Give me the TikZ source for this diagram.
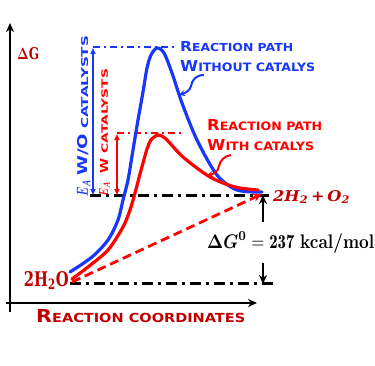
\documentclass[tikz,border=0pt]{standalone}
\usepackage{amsmath}
\usepackage{fontspec}
\usepackage{graphicx}
\usetikzlibrary{arrows.meta}
\newfontfamily\cpf{DejaVu Sans}
\newfontfamily\dvs{DejaVu Serif}
\definecolor{cblue}{RGB}{25,55,250}
\definecolor{cred}{RGB}{255,0,0}
\definecolor{dred}{RGB}{192,0,0}
\newcommand\smc[4]{{\fontsize{#1}{#1}\selectfont #3}{\fontsize{#2}{#2}\selectfont #4}}
\newcommand\dgtext{$\boldsymbol{\Delta G^0} = \mathbf{237}$ \textbf{kcal/mol}}
\newcommand\eab{$\boldsymbol{E}_{\boldsymbol{A}}$}
\begin{document}
\begin{tikzpicture}[x=1bp,y=-1bp,
  curve/.style={line width=3.2bp, line join=round, line cap=round},
  axis/.style={line width=2.6bp, -{Stealth[length=9bp,width=8bp]}},
  ddash/.style={line width=3bp, dash pattern=on 11bp off 5bp on 3bp off 5bp},
  tdash/.style={line width=1.6bp, dash pattern=on 7bp off 4bp on 2bp off 4bp},
  varrow/.style={line width=2.3bp, {Triangle[length=6bp,width=5bp]}-{Triangle[length=6bp,width=5bp]}},
  curly/.style={line width=2bp, -{Stealth[length=6bp,width=6bp]}},
  lbl/.style={inner sep=0pt, font=\cpf\bfseries},
]
\useasboundingbox (0,0) rectangle (375,366);
% key coordinates
\coordinate (r) at (72,282);
\coordinate (p) at (262,194);
\coordinate (ytop) at (10,23);
\coordinate (xend) at (257,303);
\coordinate (ybot) at (10,312);
\coordinate (xbeg) at (6,303);
% axes
\draw[axis] (ybot) -- (ytop);
\draw[axis] (xbeg) -- (xend);
% dash-dot levels
\coordinate (l1a) at (90,195);
\coordinate (l1b) at (270,195);
\coordinate (l0a) at (70,283);
\coordinate (l0b) at (278,283);
\draw[ddash] (l1a) -- (l1b);
\draw[ddash] (l0a) -- (l0b);
\coordinate (bta) at (93,47);
\coordinate (btb) at (178,47);
\coordinate (rta) at (117,133);
\coordinate (rtb) at (182,133);
\draw[tdash, cblue] (bta) -- (btb);
\draw[tdash, cred] (rta) -- (rtb);
% curves
\draw[curve, cblue] plot[smooth, tension=0.5] coordinates {(70,272) (92,257) (108,240) (118,220) (123,200) (128,180) (133,150) (138,120) (143,92) (147,68) (151,55) (157,48) (164,53) (172,73) (182,103) (197,140) (217,175) (237,190) (262,192)};
\draw[curve, cred] plot[smooth, tension=0.5] coordinates {(72,279) (88,267) (108,250) (123,227) (130,210) (135,193) (140,174) (143,163) (147,149) (151,140) (158,135) (166,139) (183,157) (210,177) (235,187) (258,190)};
% dashed direct path
\draw[cred, line width=2.8bp, dash pattern=on 9bp off 5bp, -{Stealth[length=9bp,width=8bp]}] (r) -- (p);
% activation energy arrows
\coordinate (bv1) at (93,48);
\coordinate (bv2) at (93,195);
\coordinate (rv1) at (117,134);
\coordinate (rv2) at (117,195);
\draw[varrow, cblue] (bv1) -- (bv2);
\draw[varrow, cred] (rv1) -- (rv2);
% delta G0 arrows
\coordinate (g1) at (263,222);
\coordinate (g2) at (263,195);
\coordinate (g3) at (263,263);
\coordinate (g4) at (263,284);
\draw[axis] (g1) -- (g2);
\draw[axis] (g3) -- (g4);
% curly arrows
\coordinate (bc0) at (204,75);
\coordinate (bc1) at (191,86);
\coordinate (bc2) at (179,95);
\draw[curly, cblue] (bc0) .. controls (196,75) and (192,80) .. (bc1) .. controls (190,91) and (185,93) .. (bc2);
\coordinate (rc0) at (231,155);
\coordinate (rc1) at (219,166);
\coordinate (rc2) at (207,176);
\draw[curly, cred] (rc0) .. controls (224,156) and (220,161) .. (rc1) .. controls (218,172) and (213,174) .. (rc2);
% labels
\node[inner sep=0pt, anchor=base west, text=dred] (dg) at (17,59) {\resizebox{22bp}{12bp}{\dvs\bfseries $\boldsymbol{\Delta}$G}};
\node[inner sep=0pt, anchor=base east, text=dred] (h2o) at (69,286) {\resizebox{45bp}{15bp}{\dvs\bfseries 2H\textsubscript{2}O}};
\node[inner sep=0pt, anchor=base west, text=dred] (prod) at (273,201) {\resizebox{77bp}{11bp}{\dvs\bfseries\itshape 2H\textsubscript{2}\,\upshape+\,\itshape O\textsubscript{2}}};
\node[inner sep=0pt, anchor=base west] (dgz) at (207,248) {\resizebox{167bp}{16bp}{\dgtext}};
\node[lbl, anchor=base west, text=dred] (xl) at (36,322) {\resizebox{209bp}{13bp}{\smc{14}{9.8}{R}{EACTION COORDINATES}}};
\node[lbl, anchor=base west, text=cblue] (bla) at (180,51) {\resizebox{113bp}{10bp}{\smc{12}{9.6}{R}{EACTION PATH}}};
\node[lbl, anchor=base west, text=cblue] (blb) at (180,71) {\resizebox{135bp}{11bp}{\smc{12}{9.2}{W}{ITHOUT CATALYS}}};
\node[lbl, anchor=base west, text=cred] (rla) at (207,130) {\resizebox{115bp}{11bp}{\smc{12}{9.2}{R}{EACTION PATH}}};
\node[lbl, anchor=base west, text=cred] (rlb) at (207,150) {\resizebox{107bp}{11bp}{\smc{12}{9.2}{W}{ITH CATALYS}}};
\node[lbl, anchor=base west, rotate=90, text=cblue] (bv) at (88,197) {\resizebox{17bp}{11bp}{\eab}\hspace{4bp}\resizebox{42bp}{10bp}{W/O}\hspace{5bp}\resizebox{93bp}{7bp}{CATALYSTS}};
\node[lbl, anchor=base west, rotate=90, text=cred] (rv) at (108,197) {\resizebox{15bp}{9bp}{\eab}\hspace{8bp}\resizebox{15bp}{8bp}{W}\hspace{5bp}\resizebox{85bp}{6.5bp}{CATALYSTS}};
\end{tikzpicture}
\end{document}
